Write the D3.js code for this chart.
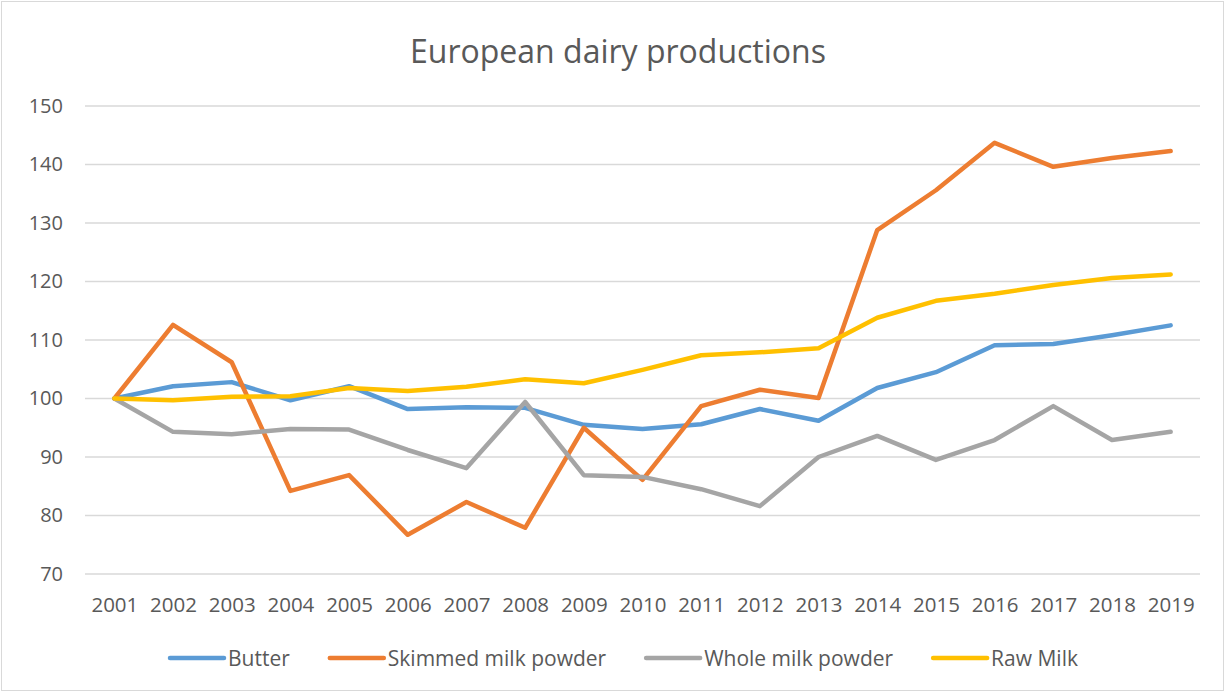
<!doctype html>
<html lang="en">
<head>
<meta charset="utf-8">
<title>European dairy productions</title>
<script src="https://cdn.jsdelivr.net/npm/d3@7"></script>
<style>
  body { margin: 0; background: #fff; }
  text { font-family: "Open Sans", "Liberation Sans", sans-serif; fill: #595959; }
</style>
</head>
<body>
<script>
var years = ["2001","2002","2003","2004","2005","2006","2007","2008","2009","2010",
             "2011","2012","2013","2014","2015","2016","2017","2018","2019"];
var butter = [100, 102.1, 102.8, 99.7, 102.1, 98.2, 98.5, 98.4, 95.5, 94.8,
              95.6, 98.2, 96.2, 101.8, 104.5, 109.1, 109.3, 110.8, 112.5];
var skimmed = [100, 112.6, 106.2, 84.2, 86.9, 76.7, 82.3, 77.9, 95.0, 86.1,
               98.7, 101.5, 100.1, 128.8, 135.6, 143.7, 139.6, 141.1, 142.3];
var whole = [100, 94.3, 93.9, 94.8, 94.7, 91.2, 88.1, 99.4, 86.9, 86.6,
             84.5, 81.6, 90.0, 93.6, 89.5, 92.9, 98.7, 92.9, 94.3];
var rawMilk = [100, 99.7, 100.3, 100.4, 101.8, 101.3, 102.0, 103.3, 102.6, 104.9,
               107.4, 107.9, 108.6, 113.8, 116.7, 117.9, 119.4, 120.6, 121.2];
var yTicks = [70, 80, 90, 100, 110, 120, 130, 140, 150];

var series = [
  {name: "Butter", values: butter, color: "#5b9bd5"},
  {name: "Skimmed milk powder", values: skimmed, color: "#ed7d31"},
  {name: "Whole milk powder", values: whole, color: "#a5a5a5"},
  {name: "Raw Milk", values: rawMilk, color: "#ffc000"}
];

var W = 1226, H = 693;
var margin = {top: 106, right: 26, bottom: 119, left: 85};

var svg = d3.select("body").append("svg")
    .attr("width", W)
    .attr("height", H);

svg.append("rect")
   .attr("x", 1.5).attr("y", 1.5)
   .attr("width", W - 4).attr("height", H - 4)
   .attr("fill", "#fff")
   .attr("stroke", "#d9d9d9");

var x = d3.scalePoint()
    .domain(years)
    .range([margin.left, W - margin.right])
    .padding(0.5);

var y = d3.scaleLinear()
    .domain([70, 150])
    .range([H - margin.bottom, margin.top]);

// gridlines
svg.append("g")
   .selectAll("line")
   .data(yTicks)
   .enter()
   .append("line")
   .attr("x1", margin.left)
   .attr("x2", W - margin.right)
   .attr("y1", d => y(d))
   .attr("y2", d => y(d))
   .attr("stroke", "#d9d9d9")
   .attr("stroke-width", 1.5);

var yAxis = d3.axisLeft(y).tickValues(yTicks).tickSize(0).tickPadding(22);
var gy = svg.append("g")
   .attr("transform", "translate(" + margin.left + ",0)")
   .call(yAxis);
gy.select(".domain").remove();
gy.selectAll("text").style("font-size", "20px").attr("fill", "#595959");

var xAxis = d3.axisBottom(x).tickSize(0).tickPadding(23);
var gx = svg.append("g")
   .attr("transform", "translate(0," + (H - margin.bottom) + ")")
   .call(xAxis);
gx.select(".domain").remove();
gx.selectAll("text").style("font-size", "20.5px").attr("fill", "#595959");

var line = d3.line()
    .x((d, i) => x(years[i]))
    .y(d => y(d));

svg.append("g")
   .selectAll("path")
   .data(series)
   .enter()
   .append("path")
   .attr("d", d => line(d.values))
   .attr("fill", "none")
   .attr("stroke", d => d.color)
   .attr("stroke-width", 4.5)
   .attr("stroke-linejoin", "round")
   .attr("stroke-linecap", "round");

// title
svg.append("text")
   .attr("x", 618)
   .attr("y", 63)
   .attr("text-anchor", "middle")
   .style("font-size", "32px")
   .text("European dairy productions");

// legend
var legend = svg.append("g");
var items = legend.selectAll("g")
   .data(series)
   .enter()
   .append("g");
items.append("line")
   .attr("x1", 0).attr("x2", 54)
   .attr("y1", 0).attr("y2", 0)
   .attr("stroke", d => d.color)
   .attr("stroke-width", 4.5)
   .attr("stroke-linecap", "round");
items.append("text")
   .attr("x", 58)
   .attr("y", 7.5)
   .style("font-size", "21px")
   .text(d => d.name);

var pos = 0;
var gap = 40;
items.each(function() {
  var w = 58 + this.querySelector("text").getComputedTextLength();
  d3.select(this).attr("transform", "translate(" + pos + ",0)");
  pos += w + gap;
});
var total = pos - gap;
legend.attr("transform", "translate(" + (624 - total / 2) + ",658)");
</script>
</body>
</html>
